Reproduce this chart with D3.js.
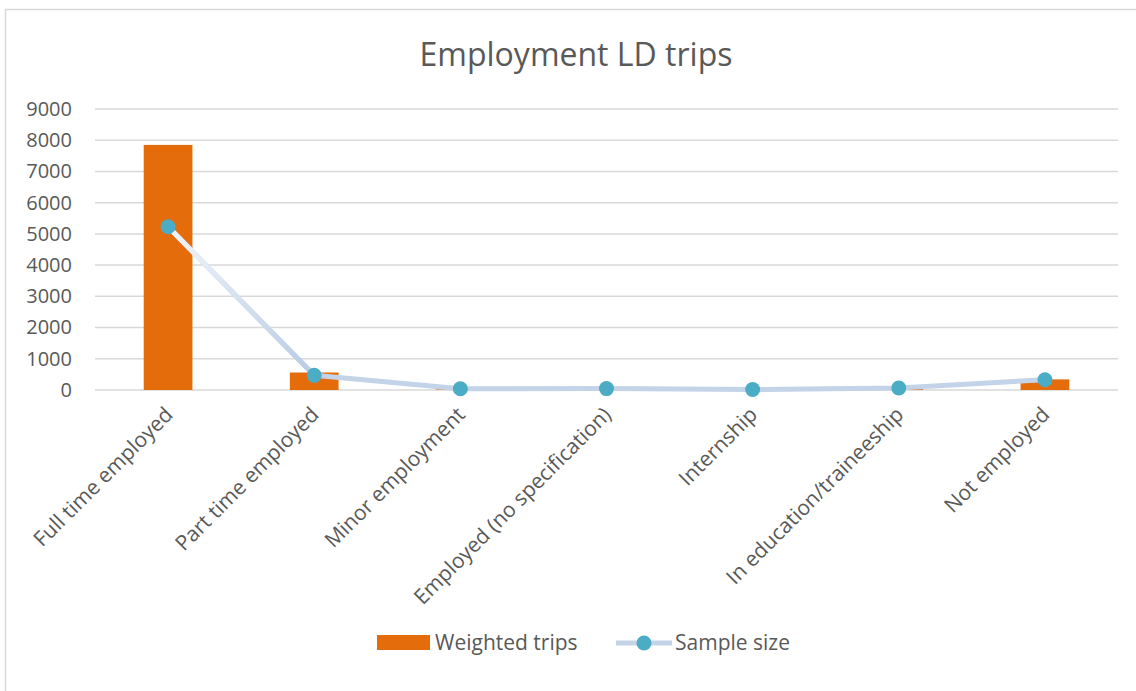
<!DOCTYPE html>
<html>
<head>
<meta charset="utf-8">
<script src="https://cdn.jsdelivr.net/npm/d3@7"></script>
<style>
  body { margin: 0; background: #fff; }
  text { font-family: "Open Sans", sans-serif; fill: #595959; }
</style>
</head>
<body>
<div id="chart"></div>
<script>
// categories and series
var categories = ["Full time employed", "Part time employed", "Minor employment",
  "Employed (no specification)", "Internship", "In education/traineeship", "Not employed"];
var weightedTrips = [7850, 560, 20, 15, 5, 30, 340];
var sampleSize = [5230, 470, 40, 45, 15, 65, 330];
var yTicks = [0, 1000, 2000, 3000, 4000, 5000, 6000, 7000, 8000, 9000];

var W = 1136, H = 691;
var margin = { top: 109, right: 18, bottom: 301, left: 95 },
    width = W - margin.left - margin.right,
    height = H - margin.top - margin.bottom;

var root = d3.select("#chart").append("svg")
    .attr("width", W)
    .attr("height", H);

// chart frame
root.append("rect")
    .attr("x", 5.5).attr("y", 9.5)
    .attr("width", W + 20).attr("height", H + 20)
    .attr("fill", "none")
    .attr("stroke", "#d9d9d9")
    .attr("stroke-width", 1.5);

// title
root.append("text")
    .attr("x", 576).attr("y", 66)
    .attr("text-anchor", "middle")
    .attr("font-size", "32px")
    .text("Employment LD trips");

var defs = root.append("defs");
var grad = defs.append("linearGradient")
    .attr("id", "lineGrad")
    .attr("x1", "0").attr("y1", "0").attr("x2", "0").attr("y2", "1");
grad.append("stop").attr("offset", "0%").attr("stop-color", "#f2f6fb");
grad.append("stop").attr("offset", "100%").attr("stop-color", "#b7cbe4");

var svg = root.append("g")
    .attr("transform", "translate(" + margin.left + "," + margin.top + ")");

var x = d3.scaleBand()
    .domain(categories)
    .range([0, width]);

var y = d3.scaleLinear()
    .domain([0, 9000])
    .range([height, 0]);

// gridlines
svg.selectAll(".grid")
    .data(yTicks)
    .enter().append("line")
    .attr("x1", 0).attr("x2", width)
    .attr("y1", function(d) { return y(d); })
    .attr("y2", function(d) { return y(d); })
    .attr("stroke", "#d9d9d9")
    .attr("stroke-width", 1.5);

// y axis labels
var yAxis = svg.append("g")
    .call(d3.axisLeft(y).tickValues(yTicks).tickSize(0).tickPadding(23).tickFormat(d3.format("d")));
yAxis.select(".domain").remove();
yAxis.selectAll("text")
    .attr("font-size", "20px")
    .attr("fill", "#595959")
    .style("font-family", "'Open Sans', sans-serif");

// bars
var barW = x.bandwidth() / 3;
svg.selectAll(".bar")
    .data(categories)
    .enter().append("rect")
    .attr("class", "bar")
    .attr("x", function(d) { return x(d) + x.bandwidth() / 2 - barW / 2; })
    .attr("y", function(d, i) { return y(weightedTrips[i]); })
    .attr("width", barW)
    .attr("height", function(d, i) { return height - y(weightedTrips[i]); })
    .attr("fill", "#e46c0a");

// line
var line = d3.line()
    .x(function(d, i) { return x(categories[i]) + x.bandwidth() / 2; })
    .y(function(d) { return y(d); });

svg.append("path")
    .datum(sampleSize)
    .attr("d", line)
    .attr("fill", "none")
    .attr("stroke", "#c3d3e8")
    .attr("stroke-width", 5)
    .attr("stroke-linejoin", "round");

// first segment gradient overlay
svg.append("path")
    .datum(sampleSize.slice(0, 2))
    .attr("d", line)
    .attr("fill", "none")
    .attr("stroke", "url(#lineGrad)")
    .attr("stroke-width", 5);

svg.selectAll(".dot")
    .data(sampleSize)
    .enter().append("circle")
    .attr("cx", function(d, i) { return x(categories[i]) + x.bandwidth() / 2; })
    .attr("cy", function(d) { return y(d); })
    .attr("r", 7.5)
    .attr("fill", "#4bacc6");

// x labels
svg.selectAll(".xlab")
    .data(categories)
    .enter().append("text")
    .attr("class", "xlab")
    .attr("text-anchor", "end")
    .attr("font-size", "21px")
    .attr("transform", function(d) {
      var cx = x(d) + x.bandwidth() / 2 + 6;
      return "translate(" + cx + "," + (height + 26) + ") rotate(-45)";
    })
    .text(function(d) { return d; });

// legend
var leg = root.append("g");
leg.append("rect")
    .attr("x", 377).attr("y", 635)
    .attr("width", 53).attr("height", 15)
    .attr("fill", "#e46c0a");
leg.append("text")
    .attr("x", 435).attr("y", 650)
    .attr("font-size", "21px")
    .text("Weighted trips");
leg.append("line")
    .attr("x1", 616).attr("x2", 672)
    .attr("y1", 643).attr("y2", 643)
    .attr("stroke", "#c3d3e8")
    .attr("stroke-width", 5);
leg.append("circle")
    .attr("cx", 644).attr("cy", 643)
    .attr("r", 7.5)
    .attr("fill", "#4bacc6");
leg.append("text")
    .attr("x", 675).attr("y", 650)
    .attr("font-size", "21px")
    .text("Sample size");
</script>
</body>
</html>
